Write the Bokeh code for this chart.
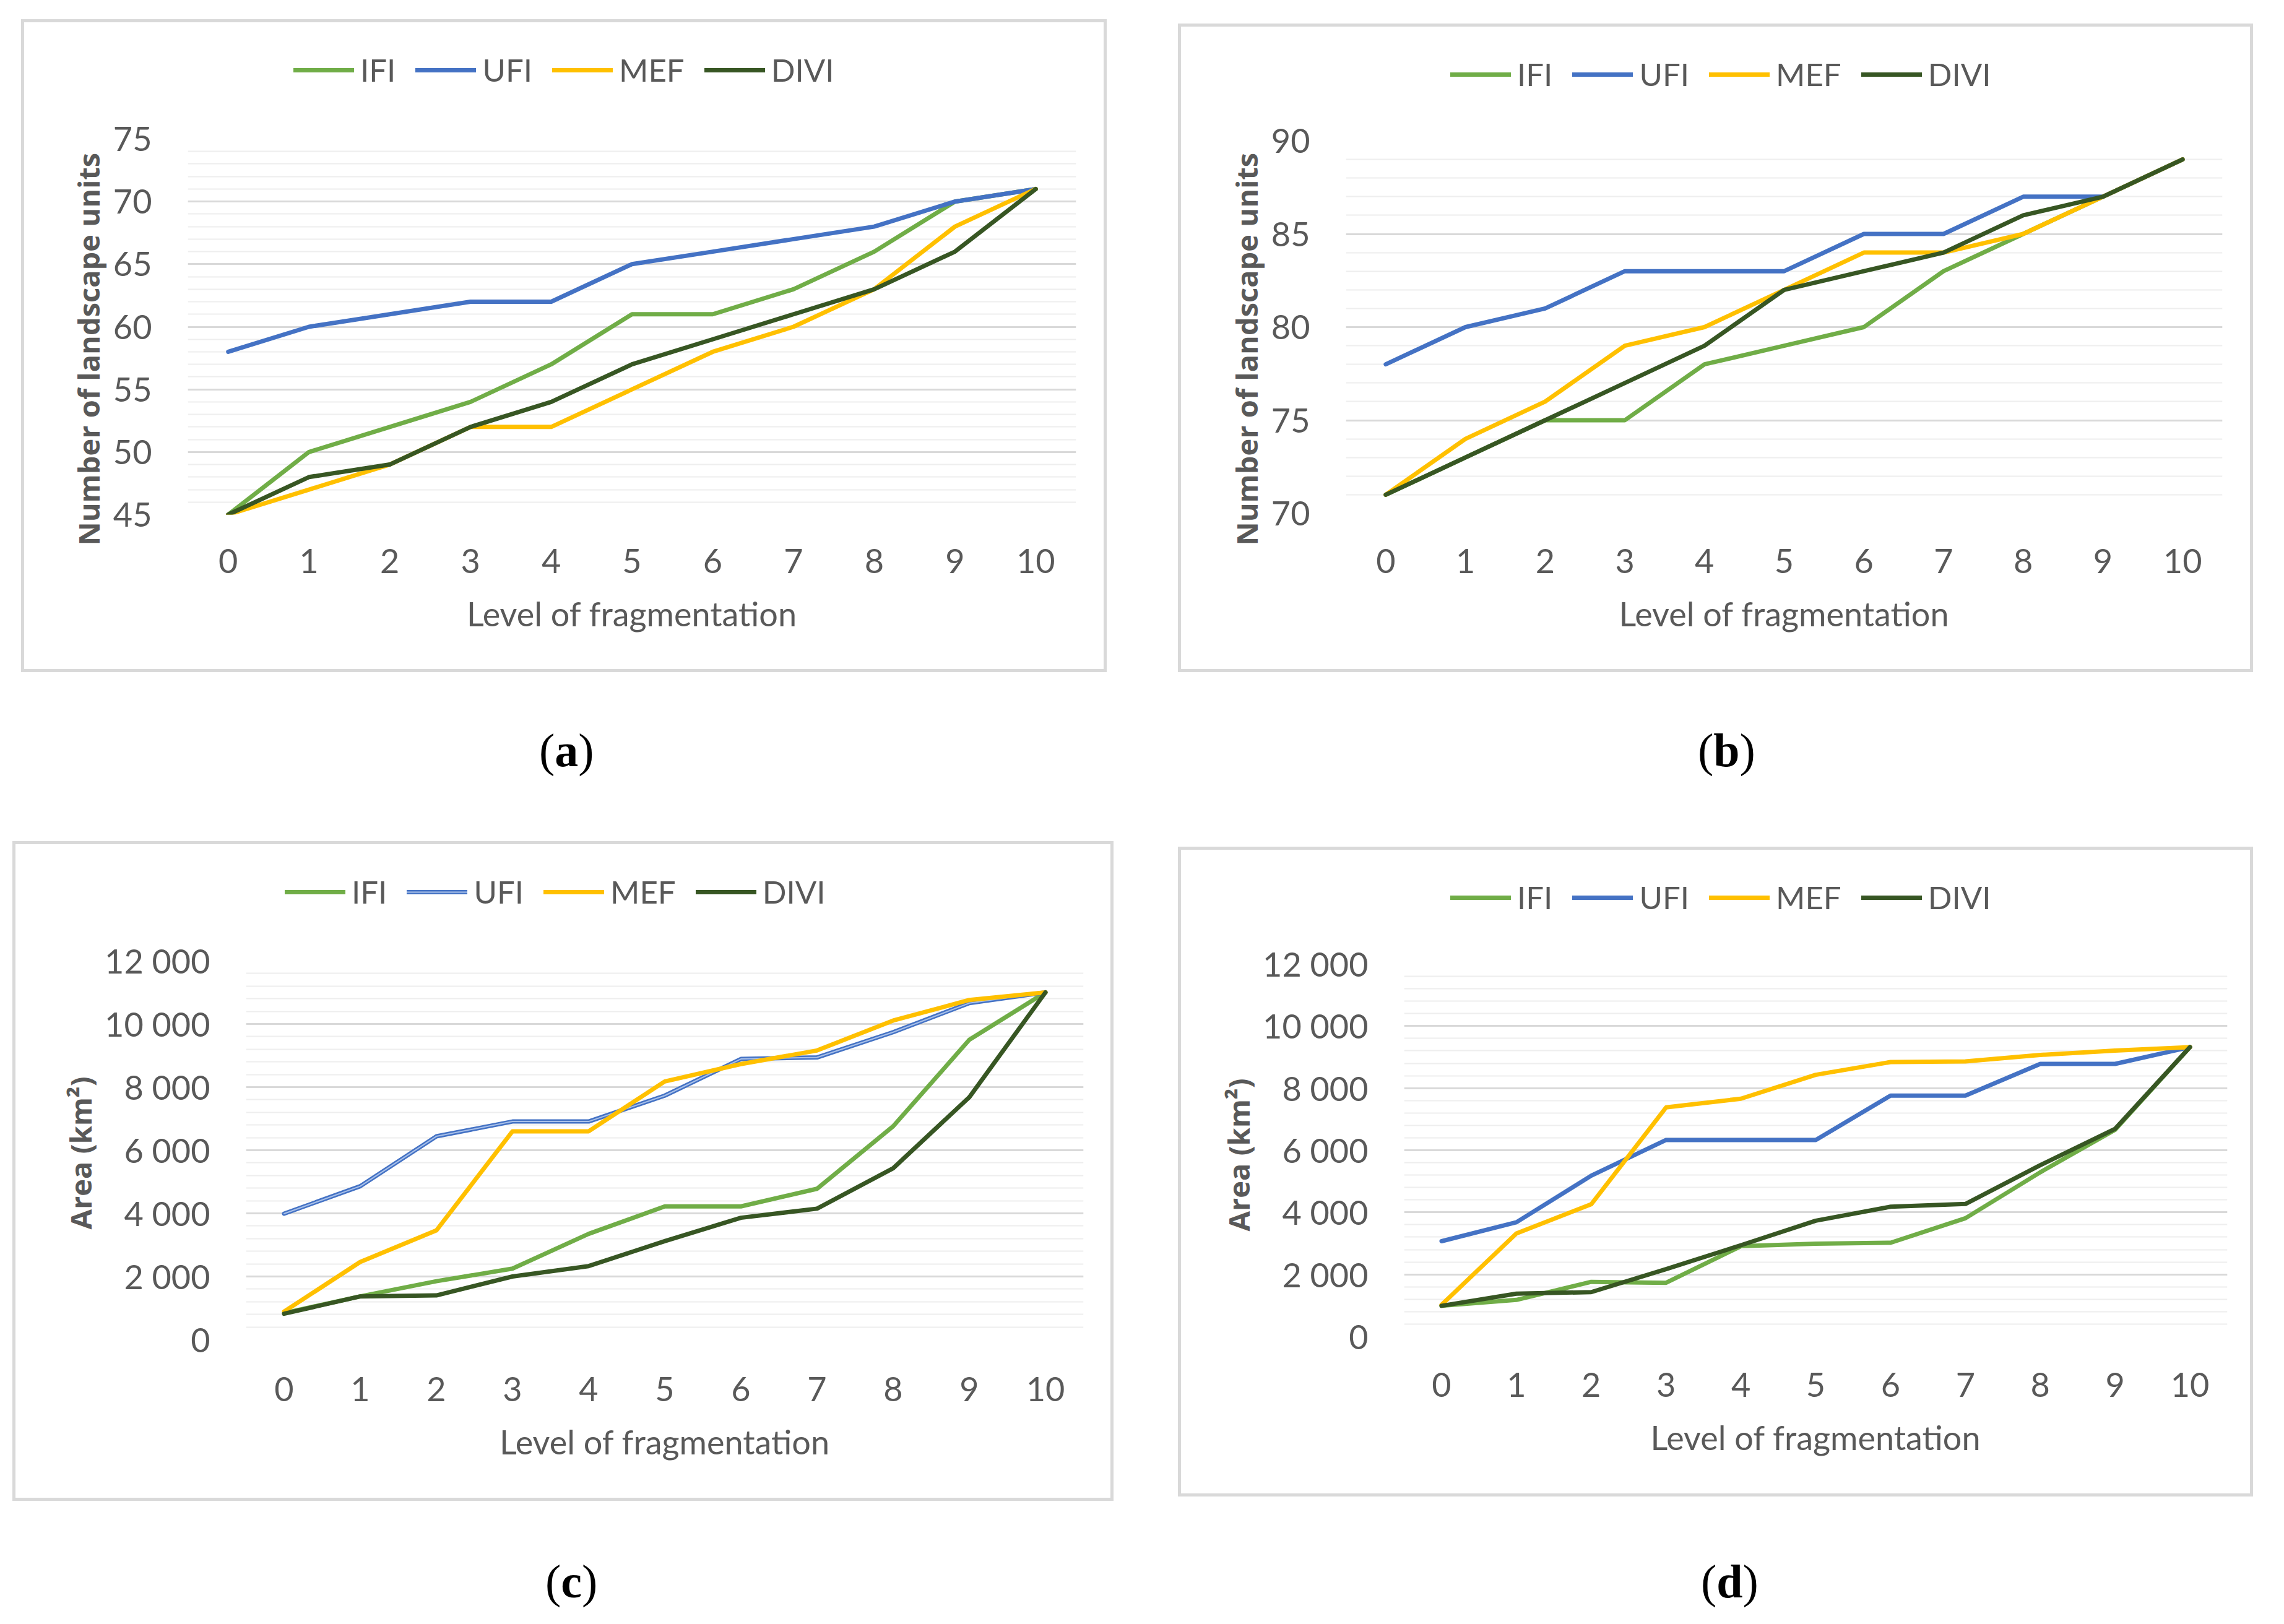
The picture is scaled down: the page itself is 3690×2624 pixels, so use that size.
from bokeh.plotting import figure
from bokeh.models import Range1d, FixedTicker, Legend, LegendItem, Div, Spacer, Title
from bokeh.layouts import row, column
from bokeh.embed import file_html
from bokeh.resources import INLINE

# ---------------- data ----------------
levels = [0, 1, 2, 3, 4, 5, 6, 7, 8, 9, 10]
series_names = ["IFI", "UFI", "MEF", "DIVI"]

a_ifi = [45, 50, 52, 54, 57, 61, 61, 63, 66, 70, 71]
a_ufi = [58, 60, 61, 62, 62, 65, 66, 67, 68, 70, 71]
a_mef = [45, 47, 49, 52, 52, 55, 58, 60, 63, 68, 71]
a_divi = [45, 48, 49, 52, 54, 57, 59, 61, 63, 66, 71]

b_ifi = [71, 73, 75, 75, 78, 79, 80, 83, 85, 87, 89]
b_ufi = [78, 80, 81, 83, 83, 83, 85, 85, 87, 87, 89]
b_mef = [71, 74, 76, 79, 80, 82, 84, 84, 85, 87, 89]
b_divi = [71, 73, 75, 77, 79, 82, 83, 84, 86, 87, 89]

c_ifi = [840, 1370, 1850, 2250, 3350, 4220, 4220, 4780, 6760, 9500, 11000]
c_ufi = [3990, 4860, 6440, 6910, 6910, 7730, 8890, 8940, 9740, 10660, 11000]
c_mef = [890, 2460, 3460, 6600, 6600, 8180, 8730, 9160, 10110, 10760, 11000]
c_divi = [820, 1370, 1400, 2000, 2330, 3120, 3860, 4150, 5430, 7680, 11000]

d_ifi = [990, 1180, 1760, 1730, 2910, 2990, 3020, 3810, 5290, 6660, 9320]
d_ufi = [3070, 3680, 5180, 6330, 6330, 6330, 7760, 7760, 8780, 8780, 9320]
d_mef = [1020, 3320, 4260, 7380, 7660, 8430, 8840, 8860, 9070, 9210, 9320]
d_divi = [990, 1380, 1430, 2170, 2940, 3730, 4180, 4270, 5520, 6690, 9320]

units_ticks_a = [45, 50, 55, 60, 65, 70, 75]
units_minor_a = list(range(45, 76))
units_ticks_b = [70, 75, 80, 85, 90]
units_minor_b = list(range(70, 91))
area_ticks = [0, 2000, 4000, 6000, 8000, 10000, 12000]
area_tick_labels = ["0", "2 000", "4 000", "6 000", "8 000", "10 000", "12 000"]
area_minor = list(range(0, 12001, 400))

x_title = "Level of fragmentation"
units_title = "Number of landscape units"
area_title = "Area (km²)"
captions = ["a", "b", "c", "d"]

# ---------------- style ----------------
COLORS = {"IFI": "#70AD47", "UFI": "#4472C4", "MEF": "#FFC000", "DIVI": "#375623"}
TXT = "#595959"
TICK_FONT = "Lato"
TITLE_FONT = "Open Sans"
FS = "54px"
LEG_FS = "51px"
BORDER = "5px solid #d9d9d9"
LEG_H = 150          # height of the legend strip at the top of each chart box
LEG_LEFT = 435       # legend start measured from the chart box's left edge
LEG_CENTER = 71      # legend centre measured from the chart box's top edge


def draw_series(p, series, compound_ufi):
    items = []
    for name, vals in zip(series_names, series):
        r = p.line(levels, vals, line_color=COLORS[name], line_width=7,
                   line_join="round", line_cap="round")
        rs = [r]
        if compound_ufi and name == "UFI":
            r2 = p.line(levels, vals, line_color="#a9c1ea", line_width=2,
                        line_join="round", line_cap="round")
            rs.append(r2)
        items.append(LegendItem(label=name, renderers=rs))
    return items


def make_panel(series, y0, y1, ticks, minor, tick_labels, ytitle, w, h,
               bl, br, bt, bb, xl_st, xt_st, yl_st, ytitle_offset, compound_ufi=False):
    # --- legend strip (its frame is aligned with the chart frame below)
    lg = figure(width=w, height=LEG_H, output_backend="svg", toolbar_location=None,
                x_range=Range1d(100, 101), y_range=Range1d(y0, y1),
                x_axis_location=None, y_axis_location=None,
                min_border_left=0, min_border_right=0, min_border_top=0, min_border_bottom=0)
    lg.grid.visible = False
    lg.outline_line_color = None
    lg.border_fill_color = "white"
    lg.styles = {"border": BORDER, "border-bottom": "none", "box-sizing": "border-box"}
    items = draw_series(lg, series, compound_ufi)
    legend = Legend(items=items, orientation="horizontal",
                    location=(LEG_LEFT - bl, LEG_H - 5 - LEG_CENTER - 31),
                    glyph_width=98, glyph_height=50, label_standoff=10,
                    spacing=32, padding=0, margin=0,
                    border_line_color=None, background_fill_alpha=0,
                    label_text_font=TICK_FONT, label_text_font_size=LEG_FS,
                    label_text_color=TXT)
    lg.add_layout(legend)

    # --- main chart
    p = figure(width=w, height=h - LEG_H, output_backend="svg", toolbar_location=None,
               x_range=Range1d(-0.5, 10.5), y_range=Range1d(y0, y1),
               min_border_left=bl, min_border_right=br,
               min_border_top=bt - LEG_H, min_border_bottom=bb)
    p.outline_line_color = None
    p.background_fill_color = "white"
    p.border_fill_color = "white"
    p.styles = {"border": BORDER, "border-top": "none", "box-sizing": "border-box"}

    p.xaxis.ticker = FixedTicker(ticks=levels)
    p.yaxis.ticker = FixedTicker(ticks=ticks, minor_ticks=minor)
    if tick_labels is not None:
        p.yaxis.major_label_overrides = {t: l for t, l in zip(ticks, tick_labels)}

    for ax in (p.xaxis[0], p.yaxis[0]):
        ax.axis_line_color = None
        ax.major_tick_line_color = None
        ax.minor_tick_line_color = None
        ax.major_tick_out = 0
        ax.minor_tick_out = 0
        ax.major_label_text_font = TICK_FONT
        ax.major_label_text_font_size = FS
        ax.major_label_text_color = TXT

    p.xaxis.axis_label = x_title
    p.xaxis.axis_label_text_font = TICK_FONT
    p.xaxis.axis_label_text_font_style = "normal"
    p.xaxis.axis_label_text_font_size = FS
    p.xaxis.axis_label_text_color = TXT
    p.xaxis.major_label_standoff = xl_st
    p.xaxis.axis_label_standoff = xt_st

    p.yaxis.major_label_standoff = yl_st
    # vertical axis title: anchored at the frame bottom, shifted by offset (up is positive)
    p.add_layout(Title(text=ytitle, align="left", offset=ytitle_offset,
                       text_font=TITLE_FONT, text_font_size="47px",
                       text_font_style="bold", text_color=TXT), "left")

    p.xgrid.visible = False
    p.ygrid.grid_line_color = "#d9d9d9"
    p.ygrid.grid_line_width = 3
    p.ygrid.minor_grid_line_color = "#eeeeee"
    p.ygrid.minor_grid_line_width = 2

    draw_series(p, series, compound_ufi)
    return column(lg, p)


pa = make_panel([a_ifi, a_ufi, a_mef, a_divi], 45, 75, units_ticks_a, units_minor_a, None,
                units_title, 1754, 1055, 264, 55, 193, 255, 55, 30, 58, -50)
pb = make_panel([b_ifi, b_ufi, b_mef, b_divi], 70, 90, units_ticks_b, units_minor_b, None,
                units_title, 1737, 1048, 266, 55, 189, 257, 57, 30, 58, -52)
pc = make_panel([c_ifi, c_ufi, c_mef, c_divi], 0, 12000, area_ticks, area_minor, area_tick_labels,
                area_title, 1779, 1066, 372, 54, 193, 261, 60, 30, 58, 178,
                compound_ufi=True)
pd = make_panel([d_ifi, d_ufi, d_mef, d_divi], 0, 12000, area_ticks, area_minor, area_tick_labels,
                area_title, 1737, 1050, 360, 47, 189, 259, 58, 30, 58, 170)


def caption(letter):
    html = ('<span style="font-family:\'Liberation Serif\', serif; font-size:76px;'
            ' line-height:90px; color:#000; white-space:nowrap;">(<b>%s</b>)</span>' % letter)
    return Div(text=html, width=100, height=90)


layout = column(
    Spacer(height=31),
    row(Spacer(width=34), pa, Spacer(width=115), column(Spacer(height=7), pb)),
    column(Spacer(height=76),
           row(Spacer(width=866), caption(captions[0]), Spacer(width=1762), caption(captions[1])),
           Spacer(height=97)),
    row(Spacer(width=20), pc, Spacer(width=104), column(Spacer(height=9), pd)),
    column(Spacer(height=80),
           row(Spacer(width=876), caption(captions[2]), Spacer(width=1757), caption(captions[3]))),
)

open("out.html", "w").write(file_html(layout, INLINE))
